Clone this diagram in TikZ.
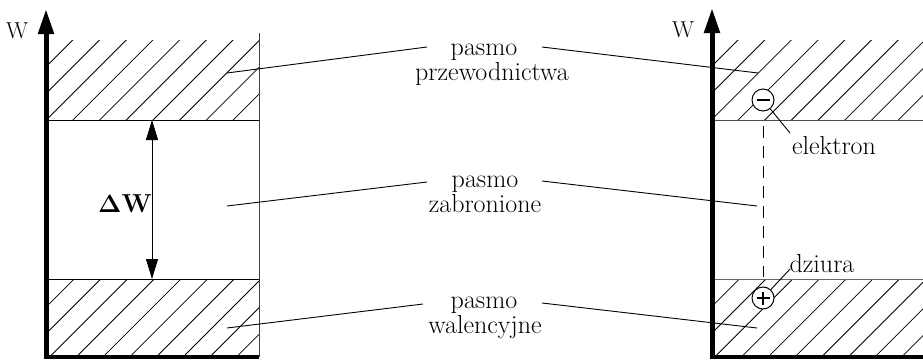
\documentclass[tikz,border=0pt]{standalone}
\usetikzlibrary{arrows.meta}
\begin{document}
\begin{tikzpicture}[x=1pt,y=-1pt,
  lbl/.style={inner sep=0pt,anchor=base,font=\rmfamily\fontsize{26}{26}\selectfont},
  wlbl/.style={inner sep=0pt,anchor=base,font=\rmfamily\fontsize{23}{25}\selectfont},
  hatchline/.style={line width=0.8pt},
  thin/.style={line width=0.9pt},
  leader/.style={line width=0.9pt},
  axis/.style={line width=5pt,-{Triangle[length=25pt,width=15pt]}},
  base/.style={line width=3.5pt},
  charge/.style={circle,draw,line width=1pt,fill=white,minimum size=22pt,inner sep=0pt}]
\useasboundingbox (0,0) rectangle (923,359);
% hatching
\begin{scope}
  \clip (48,40) rectangle (259,120) (48,279) rectangle (259,357);
  \foreach \k in {0,...,30} {\draw[hatchline] ({6+26.7*\k-400},400) -- ({6+26.7*\k},0);}
\end{scope}
\begin{scope}
  \clip (714,40) rectangle (923,120) (714,279) rectangle (923,357);
  \foreach \k in {20,...,50} {\draw[hatchline] ({3.7+26.7*\k-400},400) -- ({3.7+26.7*\k},0);}
\end{scope}
% left panel
\draw[thin] (46,120) -- (259,120);
\draw[thin] (46,279) -- (259,279);
\draw[thin,black!75] (259,33) -- (259,357);
\draw[base] (44,357) -- (259,357);
\coordinate (lax0) at (46,359);
\coordinate (lax1) at (46,9);
\draw[axis] (lax0) -- (lax1);
\node[wlbl] (wl) at (17,38) {W};
\coordinate (dw0) at (152,120);
\coordinate (dw1) at (152,279);
\draw[line width=1pt,{Triangle[length=20pt,width=12pt]}-{Triangle[length=20pt,width=12pt]}] (dw0) -- (dw1);
\node[lbl] (dW) at (125,212) {$\mathbf{\Delta}$\textbf{W}};
% right panel
\draw[thin,black!70] (712,120) -- (923,120);
\draw[thin,black!60] (712,279) -- (923,279);
\draw[base] (710,357) -- (923,357);
\coordinate (rax0) at (712,359);
\coordinate (rax1) at (712,8);
\draw[axis] (rax0) -- (rax1);
\node[wlbl] (wr) at (683,37) {W};
\coordinate (d0) at (763,126);
\coordinate (d1) at (763,277);
\draw[line width=0.9pt,dash pattern=on 12pt off 8pt] (d0) -- (d1);
\node[charge] (el) at (763,100) {};
\draw[line width=2.6pt] ([xshift=-6.5pt]el.center) -- ([xshift=6.5pt]el.center);
\node[charge] (hole) at (763,298) {};
\draw[line width=2.6pt] ([xshift=-6.5pt]hole.center) -- ([xshift=6.5pt]hole.center);
\draw[line width=2.6pt] ([yshift=-6.5pt]hole.center) -- ([yshift=6.5pt]hole.center);
\node[lbl] (elt) at (834,154) {elektron};
\node[lbl] (dzt) at (822,272) {dziura};
\coordinate (ke) at (790,133);
\coordinate (kd) at (790,269);
\draw[leader] (el) -- (ke);
\draw[leader] (hole) -- (kd);
% middle labels
\node[lbl] (p1a) at (484,55) {pasmo};
\node[lbl] (p1b) at (492,80) {przewodnictwa};
\node[lbl] (p2a) at (485,187) {pasmo};
\node[lbl] (p2b) at (485,212) {zabronione};
\node[lbl] (p3a) at (484,308) {pasmo};
\node[lbl] (p3b) at (485,333) {walencyjne};
% leaders
\coordinate (a1) at (227,73);  \coordinate (a2) at (427,47);
\coordinate (a3) at (542,47);  \coordinate (a4) at (758,73);
\coordinate (b1) at (227,206); \coordinate (b2) at (427,182);
\coordinate (b3) at (542,181); \coordinate (b4) at (757,206);
\coordinate (c1) at (227,328); \coordinate (c2) at (423,304);
\coordinate (c3) at (542,303); \coordinate (c4) at (757,328);
\draw[leader] (a1) -- (a2);
\draw[leader] (a3) -- (a4);
\draw[leader] (b1) -- (b2);
\draw[leader] (b3) -- (b4);
\draw[leader] (c1) -- (c2);
\draw[leader] (c3) -- (c4);
\end{tikzpicture}
\end{document}
